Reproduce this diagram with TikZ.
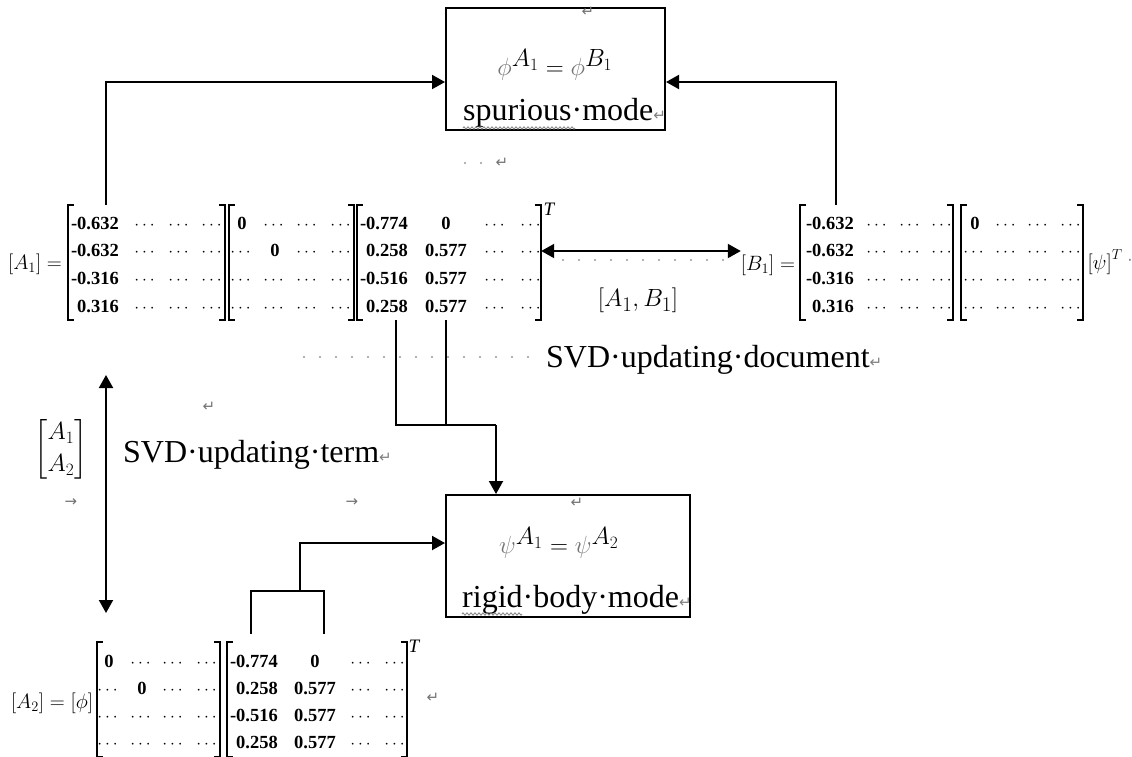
\documentclass[tikz,border=0pt]{standalone}
\usepackage{fontspec}
\usepackage{amsmath}
\setmainfont{Liberation Serif}
\newfontfamily\markfont{DejaVu Sans}
\usetikzlibrary{arrows.meta, positioning, decorations.pathmorphing}

\newcommand{\crmark}{{\markfont\fontsize{15}{15}\selectfont\textcolor{gray}{↵}}}
\newcommand{\mdots}{$\cdots$}
\newcommand{\mzero}{\textbf{0}}
\newcommand{\sqbrackets}[1]{%
  \draw[brk] ([xshift=6pt]#1.north west) -- (#1.north west) -- (#1.south west) -- ([xshift=6pt]#1.south west);
  \draw[brk] ([xshift=-6pt]#1.north east) -- (#1.north east) -- (#1.south east) -- ([xshift=-6pt]#1.south east);}

\begin{document}
\begin{tikzpicture}[x=1pt, y=-1pt,
  conn/.style={line width=2pt, -{Triangle[length=13pt,width=14pt]}},
  dconn/.style={line width=2pt, {Triangle[length=13pt,width=14pt]}-{Triangle[length=13pt,width=14pt]}},
  plain/.style={line width=2pt},
  box/.style={draw, line width=2pt, inner sep=0pt},
  brk/.style={line width=1.8pt},
  mat/.style={inner sep=0pt, minimum height=115pt},
  ent/.style={font=\fontsize{18.5}{20}\selectfont\bfseries, inner sep=0pt, anchor=base},
  num/.style={ent, anchor=base east},
  tsup/.style={font=\fontsize{19}{20}\selectfont\itshape, inner sep=0pt},
  lbl/.style={font=\fontsize{22}{26}\selectfont, inner sep=0pt},
  txt/.style={font=\fontsize{32}{38}\selectfont, inner sep=0pt},
  eqtxt/.style={font=\fontsize{35}{40}\selectfont, inner sep=0pt},
  fmt/.style={font=\markfont\fontsize{15}{15}\selectfont, text=black!55, inner sep=0pt},
  leader/.style={gray!80, line width=2.2pt, line cap=round, dash pattern=on 0pt off 16pt},
  squig/.style={gray, line width=0.8pt, decorate, decoration={zigzag, segment length=4pt, amplitude=1.2pt}}
]
\useasboundingbox (0,0) rectangle (1132,756);

% mode boxes
\node[box, minimum width=219pt, minimum height=122pt] (spur) at (555.5,69) {};
\node[eqtxt] (spureq) at (555,65) {$\textcolor{black!55}{\phi}^{A_1} = \textcolor{black!55}{\phi}^{B_1}$};
\node[txt, anchor=base west] (spurtxt) at (463,120) {spurious·mode\crmark};
\draw[squig] (463,128) -- (575,128);

\node[box, minimum width=244pt, minimum height=122pt] (rigid) at (568,556) {};
\node[eqtxt] (rigideq) at (559,543) {$\textcolor{black!55}{\psi}^{A_1} = \textcolor{black!55}{\psi}^{A_2}$};
\node[txt, anchor=base west] (rigidtxt) at (462,607) {rigid·body·mode\crmark};
\draw[squig] (462,614) -- (522,614);

% [A1] = U S V^T
\node[lbl] (aeq) at (35,264) {$\left[A_1\right] =$};
\node[mat, minimum width=157pt] (au) at (146.5,262.5) {};
\node[mat, minimum width=125pt] (as) at (291.5,262.5) {};
\node[mat, minimum width=184pt] (av) at (449,262.5) {};
\node[tsup] (avT) at (549,209) {T};
\foreach \n in {au,as,av} \sqbrackets{\n};

\foreach \v [count=\r] in {-0.632,-0.632,-0.316,0.316} {
  \node[num] (au-\r) at (119,201.3+27.7*\r) {\v};
  \foreach \x in {146,180,213} \node[ent] (au-\r-\x) at (\x,201.3+27.7*\r) {\mdots};
}
\foreach \a/\b [count=\r] in {\mzero/\mdots, \mdots/\mzero, \mdots/\mdots, \mdots/\mdots} {
  \node[ent] (as-\r-1) at (242,201.3+27.7*\r) {\a};
  \node[ent] (as-\r-2) at (275,201.3+27.7*\r) {\b};
  \foreach \x in {308,342} \node[ent] (as-\r-\x) at (\x,201.3+27.7*\r) {\mdots};
}
\foreach \a/\b [count=\r] in {-0.774/0, 0.258/0.577, -0.516/0.577, 0.258/0.577} {
  \node[num] (av-\r-1) at (408,201.3+27.7*\r) {\a};
  \node[ent] (av-\r-2) at (446,201.3+27.7*\r) {\b};
  \foreach \x in {496,532} \node[ent] (av-\r-\x) at (\x,201.3+27.7*\r) {\mdots};
}

% [B1] = U S psi^T
\node[lbl] (beq) at (768,265) {$\left[B_1\right] =$};
\node[mat, minimum width=153pt] (bu) at (876.5,262.5) {};
\node[mat, minimum width=122pt] (bs) at (1022,262.5) {};
\node[lbl] (bpsi) at (1105,262) {$\left[\psi\right]^T$};
\foreach \n in {bu,bs} \sqbrackets{\n};

\foreach \v [count=\r] in {-0.632,-0.632,-0.316,0.316} {
  \node[num] (bu-\r) at (854,201.3+27.7*\r) {\v};
  \foreach \x in {878,911,943} \node[ent] (bu-\r-\x) at (\x,201.3+27.7*\r) {\mdots};
}
\foreach \a [count=\r] in {\mzero, \mdots, \mdots, \mdots} {
  \node[ent] (bs-\r-1) at (975,201.3+27.7*\r) {\a};
  \foreach \x in {1007,1039,1072} \node[ent] (bs-\r-\x) at (\x,201.3+27.7*\r) {\mdots};
}

% [A2] = phi S V^T
\node[lbl] (a2eq) at (52,703) {$\left[A_2\right] = \left[\phi\right]$};
\node[mat, minimum width=123pt] (a2s) at (158.5,699.5) {};
\node[mat, minimum width=180pt] (a2v) at (317,699.5) {};
\node[tsup] (a2vT) at (414,646) {T};
\foreach \n in {a2s,a2v} \sqbrackets{\n};

\foreach \a/\b [count=\r] in {\mzero/\mdots, \mdots/\mzero, \mdots/\mdots, \mdots/\mdots} {
  \node[ent] (a2s-\r-1) at (109,640.5+27*\r) {\a};
  \node[ent] (a2s-\r-2) at (142,640.5+27*\r) {\b};
  \foreach \x in {174,208} \node[ent] (a2s-\r-\x) at (\x,640.5+27*\r) {\mdots};
}
\foreach \a/\b [count=\r] in {-0.774/0, 0.258/0.577, -0.516/0.577, 0.258/0.577} {
  \node[num] (a2v-\r-1) at (278,640.5+27*\r) {\a};
  \node[ent] (a2v-\r-2) at (315,640.5+27*\r) {\b};
  \foreach \x in {362,396} \node[ent] (a2v-\r-\x) at (\x,640.5+27*\r) {\mdots};
}

% labels
\node[font=\fontsize{29}{34}\selectfont, inner sep=0pt] (ab) at (638,300) {$\left[A_1, B_1\right]$};
\node[font=\fontsize{27}{32}\selectfont, inner sep=0pt] (a12) at (61,449) {$\begin{bmatrix}A_1\\A_2\end{bmatrix}$};
\node[txt, anchor=base west] (svddoc) at (546,367) {SVD·updating·document\crmark};
\node[txt, anchor=base west] (svdterm) at (123,462) {SVD·updating·term\crmark};

% formatting marks
\draw[leader] (304,357) -- (532,357);
\draw[leader] (563,260) -- (725,260);
\draw[leader] (465,163) -- (482,163);
\node[fmt] (m1) at (588,12) {↵};
\node[fmt] (m2) at (502,163) {↵};
\node[fmt] (m3) at (209,407) {↵};
\node[fmt] (m4) at (71,503) {→};
\node[fmt] (m5) at (352,503) {→};
\node[fmt] (m6) at (577,503) {↵};
\node[fmt] (m7) at (433,698) {↵};
\node[fmt] (m8) at (1130,262) {·};

% connectors
\draw[conn] ([xshift=-40.5pt]au.north) |- ([yshift=-13pt]spur.west);
\draw[conn] ([xshift=-40.5pt]bu.north) |- ([yshift=-13pt]spur.east);
\draw[dconn] ([yshift=11.5pt]av.east) -- ([yshift=11.5pt]av.east -| beq.west);

\coordinate (vj) at (496,425);
\draw[plain] ([xshift=-53pt]av.south) |- (vj);
\draw[plain] ([xshift=-3pt]av.south) -- ([xshift=-3pt]av.south |- vj);
\draw[conn] (vj) -- (vj |- rigid.north);

\coordinate (lup) at (106,375);
\coordinate (ldn) at (106,613);
\draw[dconn] (lup) -- (ldn);

\coordinate (bl) at (251,634);
\coordinate (br) at (324,634);
\coordinate (bt) at (300,591);
\draw[plain] (bl) |- (br |- bt) -- (br);
\draw[conn] (bt) |- ([yshift=13pt]rigid.west);
\end{tikzpicture}
\end{document}
